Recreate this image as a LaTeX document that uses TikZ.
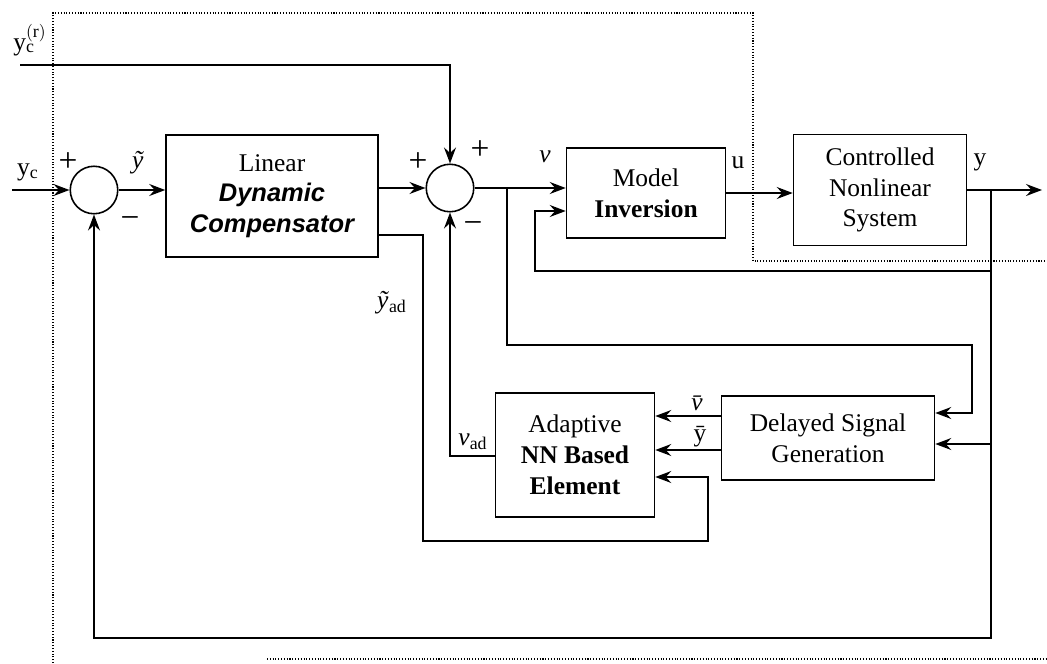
\documentclass[tikz,border=0pt]{standalone}
\usepackage{fontspec}
\setmainfont{Liberation Serif}
\setsansfont{Liberation Sans}
\setmathrm{Liberation Serif}
\usetikzlibrary{arrows.meta}
\begin{document}
\begin{tikzpicture}[x=0.02cm,y=-0.02cm,line width=0.9pt,line cap=butt,line join=miter,>={Stealth[length=3.2mm,width=2.4mm,inset=1.1mm]},font=\fontsize{14.5}{17.5}\selectfont]
		\tikzset{blk/.style={draw,align=center,inner sep=2pt},
			sum/.style={draw,circle,minimum size=0.95cm,inner sep=0pt},
			lbl/.style={inner sep=0pt},
			sgn/.style={inner sep=0pt,font=\fontsize{19}{19}\selectfont},
			frame/.style={densely dotted,line width=0.6pt}
		}
		\useasboundingbox (0,0) rectangle (1047,663);
		\draw[frame] (53,663)--(53,13)--(753,13)--(753,261)--(1047,261);
		\draw[frame] (267,659)--(1047,659);
		\node[sum] (s1) at (94,190) {};
		\node[blk,minimum width=4.24cm,minimum height=2.44cm] (ldc) at (272,196) {Linear\\{\sffamily\bfseries\itshape Dynamic}\\{\sffamily\bfseries\itshape Compensator}};
		\node[sum] (s2) at (450,188) {};
		\node[blk,minimum width=3.18cm,minimum height=1.8cm] (mi) at (646,193) {Model\\\textbf{Inversion}};
		\node[blk,minimum width=3.46cm,minimum height=2.22cm] (cns) at (880,190) {Controlled\\Nonlinear\\System};
		\node[blk,minimum width=3.18cm,minimum height=2.48cm] (nn) at (575,455) {Adaptive\\\textbf{NN Based}\\\textbf{Element}};
		\node[blk,minimum width=4.26cm,minimum height=1.68cm] (dsg) at (828,438) {Delayed Signal\\Generation};
		\coordinate (yin) at (12,190); \coordinate (rin) at (20,65);
		\coordinate (vb) at (507,188); \coordinate (vr) at (972,345); \coordinate (dv) at (972,413);
		\coordinate (yb) at (991,190); \coordinate (out) at (1042,190); \coordinate (bot) at (94,638);
		\coordinate (fb) at (991,271); \coordinate (mfb) at (535,211); \coordinate (dy) at (991,444);
		\coordinate (vbar) at (722,416); \coordinate (ybar) at (722,450);
		\coordinate (ya) at (378,235); \coordinate (yab) at (423,541); \coordinate (yae) at (708,477);
		\coordinate (va) at (495,456);
		\draw[->] (yin)--(s1.west);
		\draw[->] (s1.east)--(ldc.west |- s1.east);
		\draw[->] (ldc.east |- s2.west)--(s2.west);
		\draw[->] (rin)-|(s2.north);
		\draw[->] (s2.east)--(mi.west |- s2.east);
		\draw[->] (mi.east)--(cns.west |- mi.east);
		\draw[->] (cns.east)--(out);
		\draw[->] (fb)-|(mfb)--(mfb -| mi.west);
		\draw[->] (yb)|-(bot)--(s1.south);
		\draw[->] (dy)--(dy -| dsg.east);
		\draw[->] (vb)|-(vr)--(dv)--(dv -| dsg.east);
		\draw[->] (vbar)--(vbar -| nn.east);
		\draw[->] (ybar)--(ybar -| nn.east);
		\draw[->] (ya)-|(yab)-|(yae)--(yae -| nn.east);
		\draw[->] (va)-|(s2.south);
		\node[lbl] (lyc) at (28,172) {$\mathrm{y}_{\mathrm{c}}$};
		\node[lbl] (lycr) at (30,40) {$\mathrm{y}_{\mathrm{c}}^{(\mathrm{r})}$};
		\node[sgn] (p1) at (68,162) {+};
		\node[sgn] (m1) at (130,223) {−};
		\node[lbl] (lyt) at (138,163) {\textit{ỹ}};
		\node[sgn] (p2) at (418,162) {+};
		\node[sgn] (p3) at (480,150) {+};
		\node[sgn] (m2) at (473,228) {−};
		\node[lbl] (lv) at (545,157) {\textit{v}};
		\node[lbl] (lu) at (738,163) {u};
		\node[lbl] (ly) at (980,162) {y};
		\node[lbl] (lyad) at (392,303) {\textit{ỹ}\textsubscript{ad}};
		\node[lbl] (lvad) at (473,442) {\textit{v}\textsubscript{ad}};
		\node[lbl] (lvb) at (700,403) {\textit{\=v}};
		\node[lbl] (lyb) at (700,437) {\=y};
	\end{tikzpicture}
\end{document}
